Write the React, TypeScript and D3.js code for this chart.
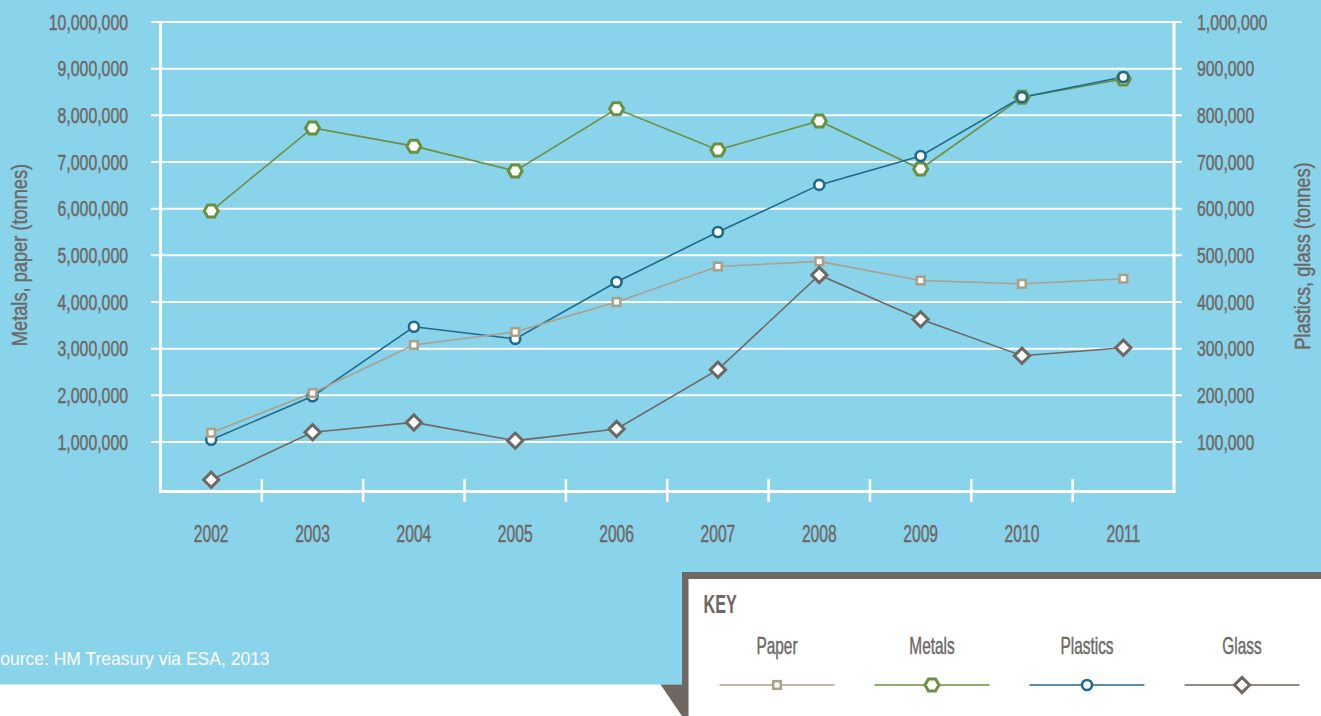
import React from 'react';
import * as d3 from 'd3';

const years = ['2002', '2003', '2004', '2005', '2006', '2007', '2008', '2009', '2010', '2011'];
const paper = [1200000, 2050000, 3080000, 3360000, 4000000, 4760000, 4870000, 4460000, 4390000, 4500000];
const metals = [5950000, 7730000, 7340000, 6810000, 8140000, 7260000, 7880000, 6850000, 8390000, 8780000];
const plastics = [105000, 198000, 347000, 321000, 443000, 550000, 651000, 713000, 839000, 882000];
const glass = [19000, 121000, 142000, 103000, 128000, 255000, 458000, 363000, 285000, 302000];
const leftTicks = [1000000, 2000000, 3000000, 4000000, 5000000, 6000000, 7000000, 8000000, 9000000, 10000000];
const rightTicks = [100000, 200000, 300000, 400000, 500000, 600000, 700000, 800000, 900000, 1000000];
const legendNames = ['Paper', 'Metals', 'Plastics', 'Glass'];

const W = 1321, H = 716;
const BG = '#89d3eb';
const TXT = '#6e6864';
const C_PAPER = '#aba18b';
const C_METALS = '#6a9140';
const C_PLASTICS = '#1e6a8b';
const C_GLASS = '#6e6762';
const FONT = '"Liberation Sans", Arial, sans-serif';

function T({ x, y, sx = 1, rot = 0, anchor = 'start', size = 22, weight = 'normal', fill = TXT, family = FONT, children }: any) {
  return (
    <text transform={`translate(${x},${y}) rotate(${rot}) scale(${sx},1)`} textAnchor={anchor}
      fontSize={size} fontWeight={weight} fill={fill} stroke={fill} strokeWidth={weight === 'bold' ? 0 : 0.45}
      fontFamily={family}>{children}</text>
  );
}

type Kind = 'square' | 'hex' | 'circle' | 'diamond';
function Marker({ kind, x, y }: { kind: Kind; x: number; y: number }) {
  if (kind === 'square') return <rect x={x - 3.8} y={y - 3.8} width={7.6} height={7.6} fill="#fff" stroke={C_PAPER} strokeWidth={2.6} />;
  if (kind === 'circle') return <circle cx={x} cy={y} r={5} fill="#fff" stroke={C_PLASTICS} strokeWidth={2.6} />;
  if (kind === 'hex') {
    const r = 7, h = 6;
    const d = `M${x - r},${y}L${x - r / 2},${y - h}L${x + r / 2},${y - h}L${x + r},${y}L${x + r / 2},${y + h}L${x - r / 2},${y + h}Z`;
    return <path d={d} fill="#fff" stroke={C_METALS} strokeWidth={3} />;
  }
  const s = 7.6;
  return <path d={`M${x},${y - s}L${x + s},${y}L${x},${y + s}L${x - s},${y}Z`} fill="#fff" stroke={C_GLASS} strokeWidth={3} />;
}

export default function App() {
  const x0 = 160.5, x1 = 1174;
  const x = d3.scalePoint<string>().domain(years).range([x0, x1]).padding(0.5);
  const yL = d3.scaleLinear().domain([0, 10000000]).range([488.7, 22]);
  const yR = d3.scaleLinear().domain([0, 1000000]).range([488.7, 22]);
  const fmt = d3.format(',');
  const axisY = 491.5;
  const step = x.step();

  const series = [
    { vals: metals, y: yL, color: C_METALS, kind: 'hex' as Kind },
    { vals: plastics, y: yR, color: C_PLASTICS, kind: 'circle' as Kind },
    { vals: paper, y: yL, color: C_PAPER, kind: 'square' as Kind },
    { vals: glass, y: yR, color: C_GLASS, kind: 'diamond' as Kind },
  ];

  const legend = [
    { name: legendNames[0], color: C_PAPER, kind: 'square' as Kind, cx: 777 },
    { name: legendNames[1], color: C_METALS, kind: 'hex' as Kind, cx: 932 },
    { name: legendNames[2], color: C_PLASTICS, kind: 'circle' as Kind, cx: 1087 },
    { name: legendNames[3], color: C_GLASS, kind: 'diamond' as Kind, cx: 1242 },
  ];

  return (
    <svg width={W} height={H} style={{ position: 'absolute', left: 0, top: 0 }}>
      <rect x={0} y={0} width={W} height={H} fill="#fff" />
      <rect x={0} y={0} width={W} height={684.5} fill={BG} />

      {leftTicks.map(t => (
        <line key={t} x1={151} x2={1182} y1={yL(t)} y2={yL(t)} stroke="#fff" strokeWidth={2} />
      ))}
      <line x1={x0} x2={x0} y1={yL(10000000) - 1} y2={axisY + 1.5} stroke="#fff" strokeWidth={3} />
      <line x1={x1} x2={x1} y1={yL(10000000) - 1} y2={axisY + 1.5} stroke="#fff" strokeWidth={3} />
      <line x1={x0 - 1.5} x2={x1 + 1.5} y1={axisY} y2={axisY} stroke="#fff" strokeWidth={3} />
      {years.slice(1).map((yr, i) => {
        const tx = x0 + step * (i + 1);
        return <line key={yr} x1={tx} x2={tx} y1={479} y2={502} stroke="#fff" strokeWidth={2.5} />;
      })}

      {leftTicks.map(t => (
        <T key={t} x={128} y={yL(t) + 7.8} anchor="end" size={22} sx={0.72}>{fmt(t)}</T>
      ))}
      {rightTicks.map(t => (
        <T key={t} x={1197} y={yR(t) + 7.8} anchor="start" size={22} sx={0.72}>{fmt(t)}</T>
      ))}
      {years.map(yr => (
        <T key={yr} x={x(yr)!} y={541.5} anchor="middle" size={23} sx={0.68}>{yr}</T>
      ))}
      <T x={27} y={255} rot={-90} anchor="middle" size={22.5} sx={0.81}>Metals, paper (tonnes)</T>
      <T x={1309.5} y={256} rot={-90} anchor="middle" size={22.5} sx={0.81}>Plastics, glass (tonnes)</T>

      {series.map((s, si) => {
        const line = d3.line<number>().x((_, i) => x(years[i])!).y(v => s.y(v));
        return <path key={si} d={line(s.vals) || ''} fill="none" stroke={s.color} strokeWidth={1.6} />;
      })}
      {series.map((s, si) => (
        <g key={si}>
          {s.vals.map((v, i) => <Marker key={i} kind={s.kind} x={x(years[i])!} y={s.y(v)} />)}
        </g>
      ))}

      <text x={-11.5} y={665} fontSize={17.5} fill="#fff" fontFamily='"Liberation Sans", Arial, sans-serif'>Source: HM Treasury via ESA, 2013</text>

      <polygon points="660.5,684.5 689,684.5 689,716 682,716" fill={C_GLASS} />
      <rect x={682} y={572} width={W - 682} height={H - 572} fill={C_GLASS} />
      <rect x={688.5} y={579} width={W - 688.5} height={H - 579} fill="#fff" />
      <T x={703.5} y={613} size={25} sx={0.65} weight="bold">KEY</T>
      {legend.map(l => (
        <g key={l.name}>
          <T x={l.cx} y={654} anchor="middle" size={23} sx={0.67}>{l.name}</T>
          <line x1={l.cx - 57.5} x2={l.cx + 57.5} y1={685} y2={685} stroke={l.color} strokeWidth={1.6} />
          <Marker kind={l.kind} x={l.cx} y={685} />
        </g>
      ))}
    </svg>
  );
}
